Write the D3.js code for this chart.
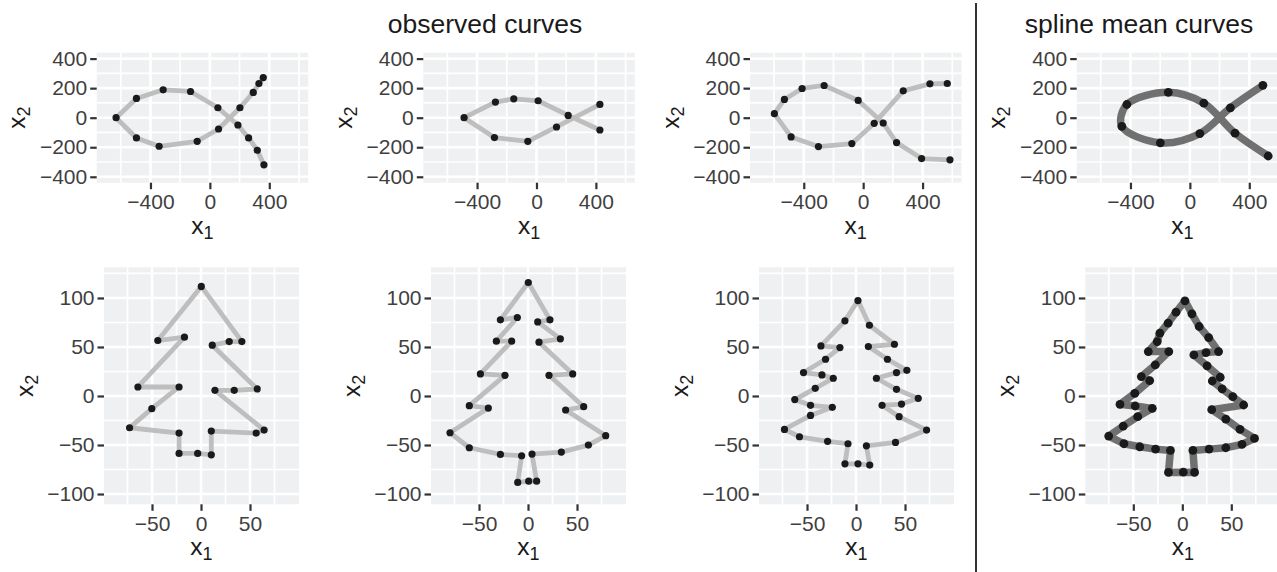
<!DOCTYPE html>
<html><head><meta charset="utf-8">
<script src="https://cdn.jsdelivr.net/npm/d3@7"></script>
<style>
html,body{margin:0;padding:0;background:#fff;}
svg{display:block;font-family:"Liberation Sans",Arial,Helvetica,sans-serif;}
</style></head>
<body>
<svg id="chart" width="1277" height="572"></svg>
<script>
// ---------- data ----------
const fishObs1 = [[359.6,271.9],[330.3,231.5],[292.1,170.8],[202.2,67.4],[58.4,-76.4],[-85.4,-159.6],[-341.6,-193.3],[-494.4,-137.1],[-631.5,0],[-494.4,130.3],[-314.6,188.8],[-130.3,177.5],[53.9,67.4],[188.8,-49.4],[260.7,-137.1],[319.1,-220.2],[364.0,-319.1]];
const fishObs2 = [[427,89.9],[134.8,-62.9],[-58.4,-159.6],[-283.1,-134.8],[-487.6,0],[-276.4,105.6],[-152.8,128.1],[11.2,114.6],[213.5,15.7],[427,-83.1]];
const fishObs3 = [[566.3,231.5],[449.4,229.2],[269.7,182.0],[74.2,-38.2],[-76.4,-175.3],[-301.1,-195.5],[-485.4,-130.3],[-597.8,27.0],[-530.3,123.6],[-411.2,197.8],[-262.9,218.0],[-33.7,116.9],[134.8,-36.0],[224.7,-168.5],[393.3,-276.4],[584.3,-285.4]];
const fishMean = [[491.6,219.0],[272.6,67.0],[67.0,-107.3],[-198.9,-169.8],[-458.1,-58.1],[-424.6,89.4],[-145.3,172.1],[93.9,98.3],[303.9,-105.0],[527.4,-259.2]];

const treeObs1 = [[0.3,111.8],[-44.1,56.6],[-16.9,60.0],[-64.4,9.2],[-22.4,9.2],[-50.2,-12.9],[-72.9,-32.4],[-22.4,-37.8],[-22.4,-58.6],[-3.4,-58.6],[10.5,-60.0],[10.5,-35.8],[56.3,-37.8],[64.4,-34.8],[14.2,5.8],[33.9,5.8],[57.3,7.2],[11.5,51.8],[28.8,55.5],[41.7,55.5]];
const treeObs2 = [[0.3,115.8],[-28.2,77.7],[-10.9,80.1],[-32.3,55.9],[-16.7,55.9],[-48.6,22.5],[-23.5,21.1],[-59.9,-9.9],[-40.5,-12.3],[-79.6,-37.5],[-59.9,-52.8],[-28.2,-59.6],[-6.5,-61.0],[-10.5,-88.2],[0.7,-86.9],[8.8,-86.9],[4.1,-59.3],[34.0,-57.2],[61.6,-50.1],[79.3,-40.5],[38.4,-14.3],[56.8,-10.9],[21.4,21.1],[45.6,22.5],[11.2,54.9],[33.0,58.3],[9.9,75.6],[22.4,77.7]];
const treeObs3 = [[2.0,97.4],[-11.3,76.7],[-35.8,51.1],[-16.4,49.4],[-31.1,37.5],[-53.6,23.9],[-34.8,21.5],[-23.2,18.1],[-41.6,7.8],[-62.5,-3.7],[-46.4,-9.5],[-24.2,-11.6],[-46.4,-19.8],[-73.0,-34.1],[-57.7,-41.6],[-29.0,-46.3],[-8.2,-48.7],[-11.3,-69.2],[2.0,-69.2],[14.0,-70.5],[10.6,-50.8],[40.3,-47.4],[72.0,-34.8],[44.0,-21.1],[26.6,-9.5],[46.4,-8.2],[63.5,-2.4],[41.3,6.8],[20.8,18.1],[41.3,23.9],[51.9,26.2],[32.1,37.5],[12.6,50.4],[39.2,52.8],[13.7,72.2]];
const treeMean = [[2.7,97.1],[-6.4,85.5],[-14.5,74.3],[-22.9,64.1],[-25.6,55.5],[-34.7,45.3],[-13.8,45.3],[-27.6,31.7],[-41.8,19.8],[-33.3,15.7],[-48.5,2.7],[-63.6,-8.5],[-48.1,-10.2],[-30.6,-12.6],[-45.5,-21.1],[-60.3,-30.7],[-75.1,-40.9],[-59.6,-48.7],[-43.4,-51.8],[-27.3,-54.2],[-12.1,-55.5],[-14.1,-78.0],[1.0,-77.7],[12.5,-78.0],[10.8,-55.5],[27.3,-54.2],[44.4,-52.8],[60.9,-49.4],[73.7,-43.3],[58.9,-34.1],[44.4,-23.5],[30.0,-14.0],[62.6,-9.2],[51.5,-0.7],[40.7,7.2],[30.6,15.3],[38.7,19.1],[25.3,30.7],[11.8,41.9],[24.2,44.3],[37.0,45.3],[26.9,59.6],[17.2,70.9],[9.8,83.8]];

const fishTicksX = [-400, 0, 400];
const fishTicksY = [-400, -200, 0, 200, 400];
const fishMinorX = [-600, -200, 200, 600];
const fishMinorY = [-300, -100, 100, 300];
const treeTicksX = [-50, 0, 50];
const treeTicksY = [-100, -50, 0, 50, 100];
const treeMinorX = [-75, -25, 25, 75];
const treeMinorY = [-125, -75, -25, 25, 75, 125];
const sectionTitles = ["observed curves", "spline mean curves"];

// ---------- layout ----------
const svg = d3.select("#chart");
const fishDomX = [-762, 662], fishDomY = [-440, 440];
const treeDomX = [-99, 100], treeDomY = [-110.5, 131.3];
const topRow = {lefts:[96.7, 423.3, 750, 1076.7], w:211.5, top:52.7, bottom:182.7};
const botRow = {lefts:[104, 431, 759, 1085.3], w:195, top:267.3, bottom:504.3};

const panels = [
  {row:topRow, col:0, data:fishObs1, kind:"fish", mean:false},
  {row:topRow, col:1, data:fishObs2, kind:"fish", mean:false},
  {row:topRow, col:2, data:fishObs3, kind:"fish", mean:false},
  {row:topRow, col:3, data:fishMean, kind:"fish", mean:true},
  {row:botRow, col:0, data:treeObs1, kind:"tree", mean:false},
  {row:botRow, col:1, data:treeObs2, kind:"tree", mean:false},
  {row:botRow, col:2, data:treeObs3, kind:"tree", mean:false},
  {row:botRow, col:3, data:treeMean, kind:"tree", mean:true}
];

const BG = "#EFF0F2";
panels.forEach(p => {
  const L = p.row.lefts[p.col], R = L + p.row.w, T = p.row.top, B = p.row.bottom;
  const fish = p.kind === "fish";
  const x = d3.scaleLinear().domain(fish ? fishDomX : treeDomX).range([L, R]);
  const y = d3.scaleLinear().domain(fish ? fishDomY : treeDomY).range([B, T]);
  const g = svg.append("g");
  g.append("rect").attr("x", L).attr("y", T).attr("width", R - L).attr("height", B - T).attr("fill", BG);
  const minX = fish ? fishMinorX : treeMinorX, minY = fish ? fishMinorY : treeMinorY;
  const majX = fish ? fishTicksX : treeTicksX, majY = fish ? fishTicksY : treeTicksY;
  const inX = v => x(v) >= L && x(v) <= R, inY = v => y(v) >= T && y(v) <= B;
  g.selectAll(".gminx").data(minX.filter(inX)).join("line")
    .attr("x1", d => x(d)).attr("x2", d => x(d)).attr("y1", T).attr("y2", B)
    .attr("stroke", "#fff").attr("stroke-width", 1.7);
  g.selectAll(".gminy").data(minY.filter(inY)).join("line")
    .attr("y1", d => y(d)).attr("y2", d => y(d)).attr("x1", L).attr("x2", R)
    .attr("stroke", "#fff").attr("stroke-width", 1.7);
  g.selectAll(".gmajx").data(majX).join("line")
    .attr("x1", d => x(d)).attr("x2", d => x(d)).attr("y1", T).attr("y2", B)
    .attr("stroke", "#fff").attr("stroke-width", 2.6);
  g.selectAll(".gmajy").data(majY).join("line")
    .attr("y1", d => y(d)).attr("y2", d => y(d)).attr("x1", L).attr("x2", R)
    .attr("stroke", "#fff").attr("stroke-width", 2.6);

  // axes
  const ax = g.append("g").attr("transform", `translate(0,${B})`)
    .call(d3.axisBottom(x).tickValues(majX).tickSize(6.5).tickPadding(5));
  const ay = g.append("g").attr("transform", `translate(${L},0)`)
    .call(d3.axisLeft(y).tickValues(majY).tickSize(6.5).tickPadding(3));
  [ax, ay].forEach(a => {
    a.select(".domain").remove();
    a.selectAll("line").attr("stroke", "#333").attr("stroke-width", 2.2);
    a.selectAll("text").attr("fill", "#3f3f3f").style("font-size", "21px").style("font-family", "inherit");
  });

  // axis titles
  const xt = g.append("text").attr("x", (L + R) / 2).attr("y", B + 51)
    .attr("text-anchor", "middle").attr("fill", "#1a1a1a").style("font-size", "24.5px");
  xt.append("tspan").text("x");
  xt.append("tspan").attr("dy", 5).style("font-size", "18px").text("1");
  const yt = g.append("text").attr("transform", `translate(${L - 71.5},${(T + B) / 2}) rotate(-90)`)
    .attr("text-anchor", "middle").attr("fill", "#1a1a1a").style("font-size", "24.5px");
  yt.append("tspan").text("x");
  yt.append("tspan").attr("dy", 5).style("font-size", "18px").text("2");

  // curve
  const curve = fish ? (p.mean ? d3.curveCatmullRom.alpha(0.5) : d3.curveLinear)
                     : d3.curveLinearClosed;
  const line = d3.line().x(d => x(d[0])).y(d => y(d[1])).curve(curve);
  g.append("path").attr("d", line(p.data)).attr("fill", "none")
    .attr("stroke", p.mean ? "#707070" : "#BEBEBE")
    .attr("stroke-width", p.mean ? 7.5 : 4.8)
    .attr("stroke-linejoin", "round").attr("stroke-linecap", "butt");
  g.selectAll(".pt").data(p.data).join("circle")
    .attr("cx", d => x(d[0])).attr("cy", d => y(d[1]))
    .attr("r", p.mean ? 4.4 : 3.6).attr("fill", "#1a1a1a");
});

// section titles & divider
svg.append("text").attr("x", 485).attr("y", 33).attr("text-anchor", "middle")
  .attr("fill", "#1a1a1a").style("font-size", "26.5px").text(sectionTitles[0]);
svg.append("text").attr("x", 1139).attr("y", 33).attr("text-anchor", "middle")
  .attr("fill", "#1a1a1a").style("font-size", "26.5px").text(sectionTitles[1]);
svg.append("line").attr("x1", 976).attr("x2", 976).attr("y1", 3).attr("y2", 572)
  .attr("stroke", "#333").attr("stroke-width", 2);
</script>
</body></html>
